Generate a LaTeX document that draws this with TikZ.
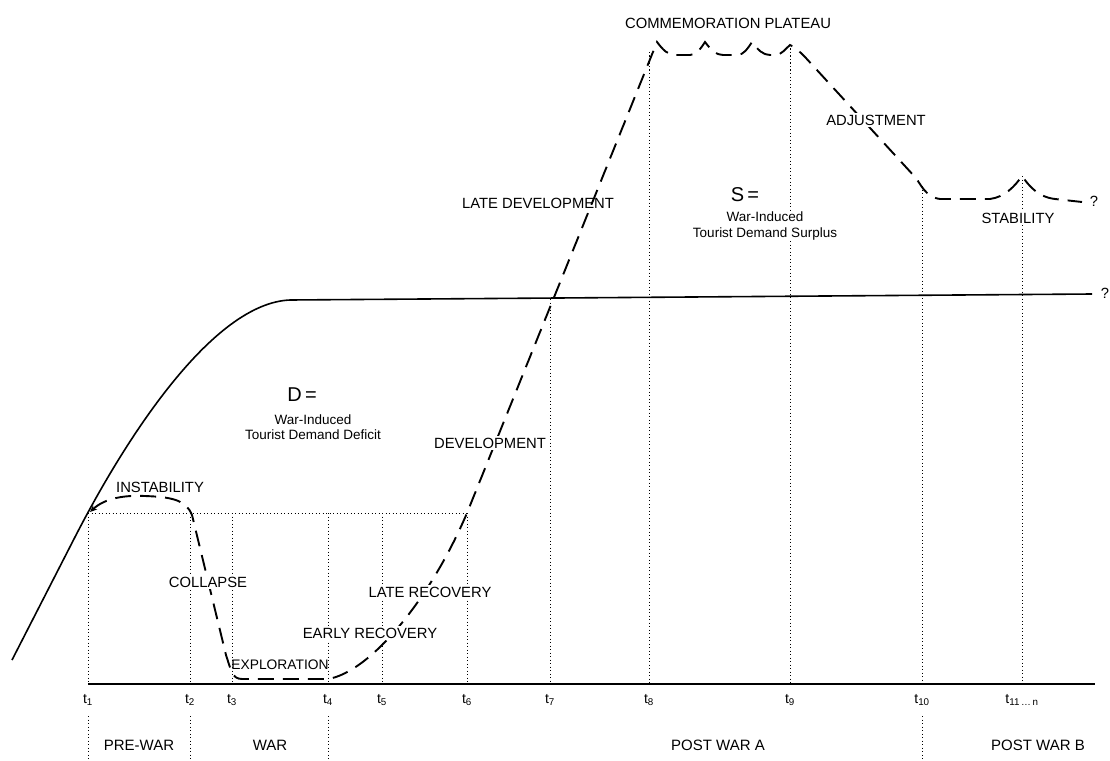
\documentclass[tikz,border=0pt]{standalone}
\usepackage{fontspec}
\setmainfont{Liberation Sans}
\usetikzlibrary{arrows.meta}
\tikzset{
	base/.style={line width=1.6pt},
	demand/.style={line width=1.9pt,dash pattern=on 16pt off 9pt},
	guide/.style={line width=0.9pt,dash pattern=on 1.1pt off 2.4pt},
	lab/.style={font=\fontsize{14.8}{16}\selectfont,inner sep=1.5pt,fill=white},
	note/.style={font=\fontsize{13.5}{15.5}\selectfont,align=center,inner sep=1pt,fill=white},
	big/.style={font=\fontsize{20}{22}\selectfont,inner sep=1pt},
	phase/.style={font=\fontsize{15}{17}\selectfont,inner sep=1pt},
	tlab/.style={font=\fontsize{14}{16}\selectfont,inner sep=1pt}
}
\begin{document}
\begin{tikzpicture}[x=1pt,y=-1pt]
	\useasboundingbox (0,0) rectangle (1110,760);

	\foreach \i/\x/\y/\s in {1/88/513/1,2/190/513/2,3/232/513/3,4/328/513/4,5/382/513/5,6/467/513/6,7/550/299/7,8/649/52/8,9/790/45/9,10/922/186/10,11/1022/176/{11\,\ldots\,n}}{
		\coordinate (t\i) at (\x,684);
		\coordinate (u\i) at (\x,\y);
		\draw [guide] (u\i) -- (t\i);
		\node [tlab] (lt\i) at (\x,700) {t\textsubscript{\s}};
	}
	\draw [guide] (u1) -- (u6);

	\foreach \i in {1,2,4,10}
		\draw [guide] ([yshift=-32pt]t\i) -- ([yshift=-76pt]t\i);

	\coordinate (axend) at (1095,684);
	\draw [line width=1.3pt] (t1) -- (axend);

	\coordinate (start) at (12,660);
	\coordinate (shoulder) at (290,300);
	\coordinate (lineend) at (1092,294);
	\draw [base] (start) -- (75,537) .. controls (130,430) and (215,303) .. (shoulder) -- (lineend);

	\draw [demand,{Stealth[length=7pt,width=6pt]}-] (90,512)
		.. controls (105,498) and (125,495) .. (145,496)
		.. controls (172,497) and (186,500) .. (192,515)
		-- (226,655)
		.. controls (231,670) and (232,679) .. (242,679)
		-- (u4 |- 0,679)
		.. controls (370,672) and (430,600) .. (u6)
		-- (657,42)
		.. controls (663,50) and (668,55) .. (675,55) -- (690,55)
		.. controls (697,55) and (701,48) .. (705,42)
		.. controls (711,50) and (716,55) .. (723,55) -- (737,55)
		.. controls (744,55) and (748,48) .. (752,42)
		.. controls (758,50) and (763,55) .. (770,55) -- (775,55)
		.. controls (782,55) and (786,48) .. (u9)
		.. controls (795,47) and (800,52) .. (805,57)
		-- (915,177)
		.. controls (921,184) and (925,197) .. (940,199) -- (990,199)
		.. controls (1005,197) and (1015,186) .. (u11)
		.. controls (1029,186) and (1038,197) .. (1055,199) -- (1082,202);

	\node [lab,fill=none] (plateau) at (728,23) {COMMEMORATION PLATEAU};
	\node [lab] (adjust) at (876,120) {ADJUSTMENT};
	\node [lab,fill=none] (latedev) at (538,203) {LATE DEVELOPMENT};
	\node [big] (seq) at (745,195) {S\,=};
	\node [note] (surplus) at (765,226) {War-Induced\\Tourist Demand Surplus};
	\node [lab] (stab) at (1018,218) {STABILITY};
	\node [lab] (qa) at (1094,201) {?};
	\node [lab] (qb) at (1105,293) {?};
	\node [big] (deq) at (302,395) {D\,=};
	\node [note] (deficit) at (313,427) {War-Induced\\Tourist Demand Deficit};
	\node [lab] (dev) at (490,443) {DEVELOPMENT};
	\node [lab] (instab) at (160,487) {INSTABILITY};
	\node [lab] (collapse) at (208,582) {COLLAPSE};
	\node [lab] (laterec) at (430,592) {LATE RECOVERY};
	\node [lab] (earlyrec) at (370,633) {EARLY RECOVERY};
	\node [lab,fill=none,font=\fontsize{13.8}{15}\selectfont] (explor) at (280,665) {EXPLORATION};

	\node [phase] (prewar) at (139,745) {PRE-WAR};
	\node [phase] (war) at (270,745) {WAR};
	\node [phase] (posta) at (718,745) {POST WAR A};
	\node [phase] (postb) at (1038,745) {POST WAR B};
\end{tikzpicture}
\end{document}
